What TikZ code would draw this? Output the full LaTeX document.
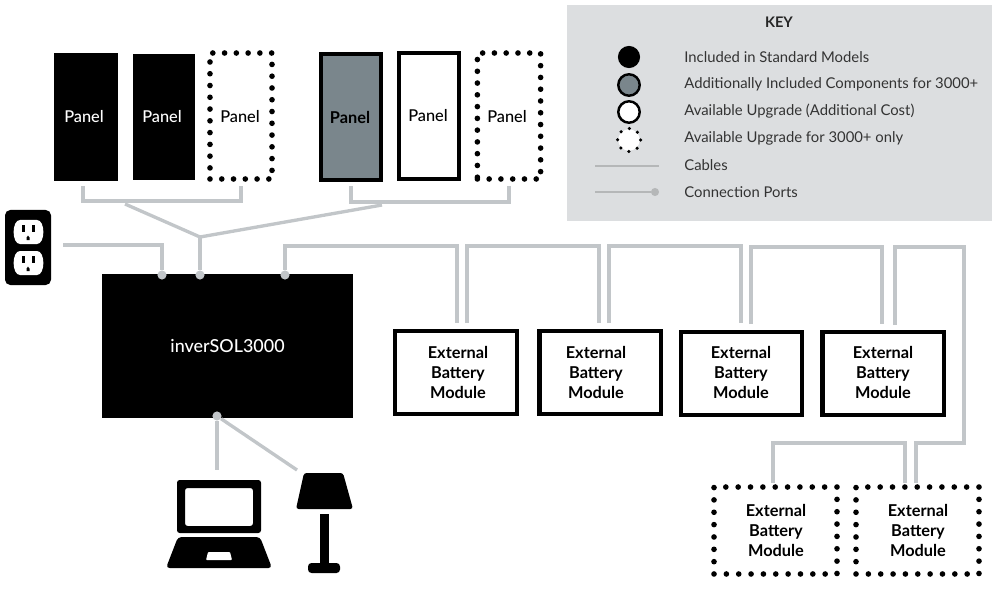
\documentclass[tikz,border=0pt]{standalone}
\usepackage{fontspec}
\setmainfont{Lato}
\newfontfamily\latomed{Lato Medium}
\definecolor{cablegray}{HTML}{C2C6C9}
\definecolor{keycable}{HTML}{B5B7B8}
\definecolor{keybg}{HTML}{DCDEE0}
\definecolor{panelgray}{HTML}{7A868C}
\tikzset{
  cable/.style={draw=cablegray,line width=1.9pt},
  port/.style={circle,fill=cablegray,inner sep=0pt,minimum size=5.2pt},
  panellabel/.style={inner sep=0pt,font=\latomed\fontsize{9.3}{11}\selectfont},
  solidpanel/.style={fill=black,inner sep=0pt},
  linedpanel/.style={draw=black,line width=2.2pt,inner sep=0pt},
  dotpanel/.style={draw=black,line width=3.2pt,line cap=round,dash pattern=on 0pt off 6.7pt,inner sep=0pt},
  batbox/.style={draw=black,line width=2.4pt,inner sep=0pt,minimum width=69pt,minimum height=47.5pt},
  dotbox/.style={draw=black,line width=3.2pt,line cap=round,dash pattern=on 0pt off 7.03pt,inner sep=0pt,minimum width=70pt,minimum height=49.5pt},
  batlabel/.style={inner sep=0pt,align=center,font=\fontsize{9.3}{11.4}\selectfont\bfseries},
  keytext/.style={anchor=west,inner sep=0pt,text=black!80,font=\fontsize{8.45}{10}\selectfont},
  keydot/.style={circle,inner sep=0pt,minimum size=12.2pt},
  pics/socketface/.style={code={
    \fill[white] (20,0) -- (37,0) .. controls (45.5,0) and (45.5,24) .. (37,24) -- (20,24) .. controls (11.5,24) and (11.5,0) .. (20,0) -- cycle;
    \fill[black] (22,5) rectangle (24.5,12);
    \fill[black] (32,5) rectangle (34.5,12);
    \fill[black] (26.5,20) -- (26.5,17.5) .. controls (27,15) and (29,15) .. (29.5,17.5) -- (29.5,20) -- cycle;
  }}
}
\begin{document}
\begin{tikzpicture}[x=0.02cm,y=-0.02cm]
  \useasboundingbox (0,0) rectangle (1000,591);

  % key
  \fill[keybg] (567,5) rectangle (992,221);
  \node[font=\fontsize{8.3}{10}\selectfont\bfseries,text=black!85] (keytitle) at (779,22) {KEY};
  \node[keydot,fill=black,minimum size=12.6pt] (keystandard) at (629,57) {};
  \node[keydot,fill=panelgray,draw=black,line width=1.4pt] (keyextra) at (629,85) {};
  \node[keydot,fill=white,draw=black,line width=1.4pt] (keyupgrade) at (629,112) {};
  \node[keydot,fill=white] (keyonly) at (629,140) {};
  \draw[black,line width=2pt,line cap=round,dash pattern=on 0pt off 5.14pt] (629,140) circle (11.5);
  \coordinate (keycableA) at (595,166);
  \coordinate (keycableB) at (659,166);
  \draw[keycable,line width=1.6pt] (keycableA) -- (keycableB);
  \node[circle,fill=keycable,inner sep=0pt,minimum size=4.6pt] (keyport) at (655,192) {};
  \coordinate (keyportA) at (595,192);
  \draw[keycable,line width=1.6pt] (keyportA) -- (keyport);
  \node[keytext] (keytextA) at (684,57) {Included in Standard Models};
  \node[keytext] (keytextB) at (684,84.5) {Additionally Included Components for 3000+};
  \node[keytext] (keytextC) at (684,111.5) {Available Upgrade (Additional Cost)};
  \node[keytext] (keytextD) at (684,138) {Available Upgrade for 3000+ only};
  \node[keytext] (keytextE) at (684,165) {Cables};
  \node[keytext] (keytextF) at (684,192) {Connection Ports};

  % panels
  \node[solidpanel,minimum width=36.4pt,minimum height=72.8pt] (panelA) at (86,117) {};
  \node[panellabel,text=white] (panelAtext) at (84,117) {Panel};
  \node[solidpanel,minimum width=35.3pt,minimum height=71.7pt] (panelB) at (164,117) {};
  \node[panellabel,text=white] (panelBtext) at (162,117) {Panel};
  \node[dotpanel,minimum width=35.3pt,minimum height=71.7pt] (panelC) at (241,116) {};
  \node[panellabel] (panelCtext) at (240,117) {Panel};
  \node[linedpanel,fill=panelgray,minimum width=34.2pt,minimum height=71.7pt] (panelD) at (351,117) {};
  \node[panellabel,font=\fontsize{9.3}{11}\selectfont\bfseries] (panelDtext) at (350,117) {Panel};
  \node[linedpanel,minimum width=34.2pt,minimum height=71.7pt] (panelE) at (429,116) {};
  \node[panellabel] (panelEtext) at (428,116) {Panel};
  \node[dotpanel,minimum width=36pt,minimum height=71.7pt] (panelF) at (509,116) {};
  \node[panellabel] (panelFtext) at (507,117) {Panel};

  % inverter and batteries
  \node[fill=black,text=white,inner sep=0pt,minimum width=142.8pt,minimum height=82pt,font=\latomed\fontsize{10.2}{12}\selectfont] (inverter) at (227.5,346) {inverSOL3000};
  \node[batbox] (batA) at (456,372.5) {};
  \node[batlabel] (batAtext) at (458,372.5) {External\\Battery\\Module};
  \node[batbox] (batB) at (600,372.5) {};
  \node[batlabel] (batBtext) at (596,372.5) {External\\Battery\\Module};
  \node[batbox] (batC) at (741.5,373.5) {};
  \node[batlabel] (batCtext) at (741,372.5) {External\\Battery\\Module};
  \node[batbox] (batD) at (883,373.5) {};
  \node[batlabel] (batDtext) at (883,372.5) {External\\Battery\\Module};
  \node[dotbox] (batE) at (775.5,530.5) {};
  \node[batlabel] (batEtext) at (776,530.5) {External\\Battery\\Module};
  \node[dotbox] (batF) at (917.5,530.5) {};
  \node[batlabel] (batFtext) at (918,530.5) {External\\Battery\\Module};

  % ports
  \node[port] (portgrid) at (162,275) {};
  \node[port] (portsolar) at (200,275) {};
  \node[port] (portbat) at (285,275) {};
  \node[port] (portload) at (217,416) {};

  % outlet
  \fill[black,rounded corners=3pt] (5,210) rectangle (51,285);
  \path (0,220) pic {socketface};
  \path (0,251) pic {socketface};
  \coordinate (outletend) at (63,245);

  % laptop
  \fill[black,even odd rule,rounded corners=1.5pt] (177,480) rectangle (261,533) (185,488) rectangle (253,526);
  \fill[black,rounded corners=2pt] (178,537) -- (260,537) -- (272,568) -- (166,568) -- cycle;
  \fill[white,rounded corners=.5pt] (208,552) -- (230,552) -- (232,560) -- (206,560) -- cycle;
  \coordinate (laptopend) at (217,470);

  % lamp
  \fill[black,rounded corners=1.5pt] (304,473) -- (343,473) -- (353,509) -- (296,509) -- cycle;
  \fill[black] (320,514) rectangle (329,565);
  \fill[black,rounded corners=2pt] (308,563) rectangle (340,573);
  \coordinate (lampend) at (297,470);

  % cables from the panels
  \coordinate (bracketAl) at (83,186);
  \coordinate (bracketAr) at (241,186);
  \coordinate (bracketBl) at (351,186);
  \coordinate (bracketBr) at (509,186);
  \coordinate (feedA) at (125,204);
  \coordinate (feedB) at (382,205);
  \coordinate (solarjoin) at (200,237);
  \draw[cable] (bracketAl) |- (162,201) -| (bracketAr);
  \draw[cable] (bracketBl) |- (430,202) -| (bracketBr);
  \draw[cable] (feedA) -- (solarjoin) -- (feedB);
  \draw[cable] (solarjoin) -- (portsolar);

  % grid and loads
  \draw[cable] (portgrid) |- (outletend);
  \draw[cable] (portload) -- (laptopend);
  \draw[cable] (portload) -- (lampend);

  % battery chain
  \coordinate (batAtopl) at (457,323);
  \coordinate (batAtopr) at (467,323);
  \coordinate (batBtopl) at (599,323);
  \coordinate (batBtopr) at (609,323);
  \coordinate (batCtopl) at (741,323);
  \coordinate (batCtopr) at (751,324);
  \coordinate (batDtopl) at (882,324);
  \coordinate (batDtopr) at (895,325);
  \coordinate (batEtop) at (773,483);
  \coordinate (batFtopl) at (905,483);
  \coordinate (batFtopr) at (916,483);
  \draw[cable] (portbat) |- (400,246) -| (batAtopl);
  \draw[cable] (batAtopr) |- (530,246) -| (batBtopl);
  \draw[cable] (batBtopr) |- (670,246) -| (batCtopl);
  \draw[cable] (batCtopr) |- (810,247) -| (batDtopl);
  \draw[cable] (batDtopr) |- (964,247) |- (batFtopr |- 0,443) -- (batFtopr);
  \draw[cable] (batEtop) |- (840,443) -| (batFtopl);
\end{tikzpicture}
\end{document}
